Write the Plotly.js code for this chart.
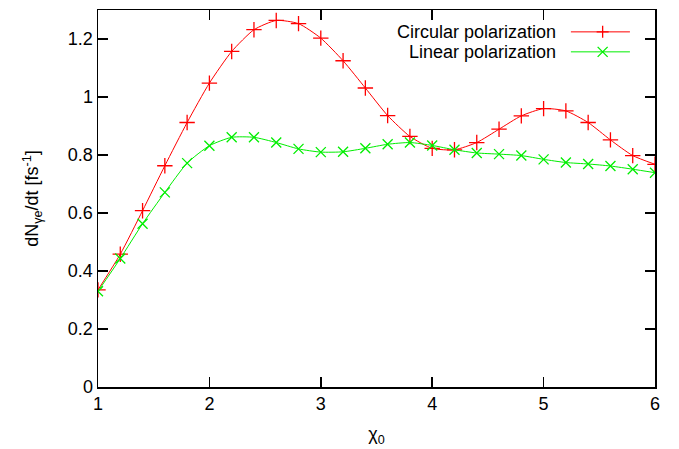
<!DOCTYPE html>
<html>
<head>
<meta charset="utf-8">
<script src="https://cdn.plot.ly/plotly-3.0.1.min.js"></script>
<style>html,body{margin:0;padding:0;background:#fff;}#chart{width:679px;height:449px;}</style>
</head>
<body>
<div id="chart"></div>
<script>
const chi0 = [1.0,1.2,1.4,1.6,1.8,2.0,2.2,2.4,2.6,2.8,3.0,3.2,3.4,3.6,3.8,4.0,4.2,4.4,4.6,4.8,5.0,5.2,5.4,5.6,5.8,6.0];
const circular = [0.335,0.458,0.608,0.763,0.912,1.048,1.157,1.232,1.264,1.253,1.203,1.125,1.031,0.936,0.864,0.823,0.818,0.843,0.889,0.935,0.960,0.952,0.912,0.852,0.798,0.768];
const linear = [0.330,0.443,0.563,0.671,0.772,0.832,0.861,0.861,0.843,0.821,0.810,0.811,0.823,0.837,0.843,0.833,0.818,0.807,0.803,0.798,0.785,0.774,0.769,0.762,0.751,0.739];
const seriesNames = ["Circular polarization", "Linear polarization"];
const yTicks = [0,0.2,0.4,0.6,0.8,1,1.2];
const xTicks = [1,2,3,4,5,6];

const RED = "#ff0000", GREEN = "#00ee00";
const FONT = "Liberation Sans, Arial, Helvetica, sans-serif";
const FS = 18;

const traces = [
  {x: chi0, y: circular, name: seriesNames[0], mode: "lines+markers",
   line: {color: RED, width: 1, shape: "spline", smoothing: 0.6},
   marker: {symbol: "cross-thin-open", size: 11, color: RED, line: {color: RED, width: 1.3}},
   cliponaxis: true},
  {x: chi0, y: linear, name: seriesNames[1], mode: "lines+markers",
   line: {color: GREEN, width: 1, shape: "spline", smoothing: 0.6},
   marker: {symbol: "x-thin-open", size: 10, color: GREEN, line: {color: GREEN, width: 1.3}},
   cliponaxis: true}
];

// legend drawn gnuplot-style: text right-aligned, sample on the right
const legendY = [0.942, 0.889]; // paper y of the two legend rows
const annotations = seriesNames.map((n, i) => ({
  text: n, xref: "paper", yref: "paper", x: 0.826, y: legendY[i],
  xanchor: "right", yanchor: "middle", showarrow: false,
  font: {family: FONT, size: FS, color: "#000"}
}));
const shapes = [];
[RED, GREEN].forEach((c, i) => {
  shapes.push({type: "line", xref: "paper", yref: "paper", x0: 0.849, x1: 0.955,
    y0: legendY[i], y1: legendY[i], line: {color: c, width: 1}});
  shapes.push({type: "path", xref: "paper", yref: "paper",
    xsizemode: "pixel", ysizemode: "pixel", xanchor: 0.906, yanchor: legendY[i],
    path: i === 0 ? "M-6,0H6M0,-6V6" : "M-5,-5L5,5M-5,5L5,-5",
    line: {color: c, width: 1.3}});
});

const axisCommon = {
  ticks: "inside", ticklen: 10, tickwidth: 1.5, tickcolor: "#000",
  showline: true, linecolor: "#000", linewidth: 1.5, mirror: "ticks",
  showgrid: false, zeroline: false, tickfont: {family: FONT, size: FS}
};

const layout = {
  width: 679, height: 449,
  margin: {l: 98, r: 24, t: 10, b: 62},
  paper_bgcolor: "#fff", plot_bgcolor: "#fff",
  font: {family: FONT, size: FS, color: "#000"},
  showlegend: false,
  xaxis: Object.assign({}, axisCommon, {
    range: [1, 6], tickvals: xTicks,
    title: {text: "χ<sub>0</sub>", font: {family: FONT, size: FS}, standoff: 14}
  }),
  yaxis: Object.assign({}, axisCommon, {
    range: [0, 1.3], tickvals: yTicks,
    title: {text: "dN<sub>γe</sub>/dt [fs<sup>-1</sup>]", font: {family: FONT, size: FS}, standoff: 24}
  }),
  annotations: annotations,
  shapes: shapes
};

Plotly.newPlot("chart", traces, layout, {displayModeBar: false, staticPlot: true});
</script>
</body>
</html>
